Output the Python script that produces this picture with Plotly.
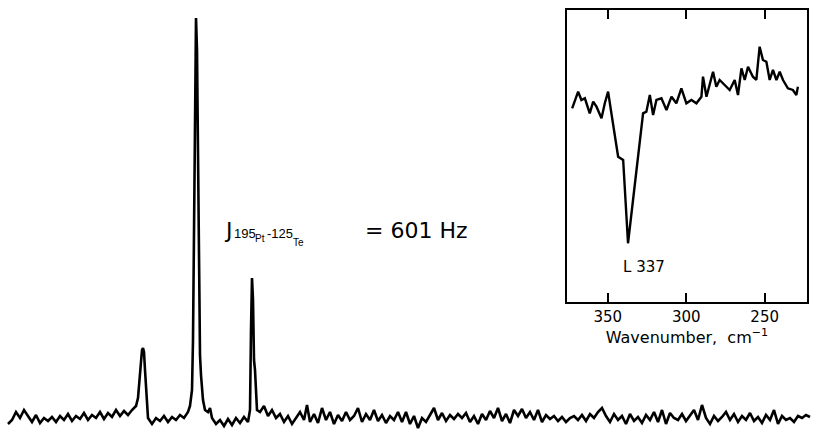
import plotly.graph_objects as go

# ---- Main 195Pt NMR spectrum (channel, intensity in arbitrary units) ----
channel = [8, 12, 16, 20, 24, 28, 32, 36, 40, 44, 48, 52, 56, 60, 64, 68, 72, 76, 80, 84,
           88, 92, 96, 100, 104, 108, 112, 116, 120, 124, 128, 132, 136,
           138, 140, 141, 142, 143, 144, 145, 146, 147, 148,
           152, 156, 160, 164, 168, 172, 176, 180, 184, 188, 190,
           192, 193, 194, 195, 196, 197, 198, 199, 200, 201, 202, 203, 205,
           208, 210, 212, 216, 220, 224, 228, 232, 236, 240, 244, 248, 250,
           251, 252, 253, 254, 255, 256, 257, 260,
           264, 268, 272, 276, 280, 284, 288, 292, 296, 300, 304, 307, 310, 314, 318,
           322, 326, 330, 334, 338, 342, 346, 350, 354, 358, 362, 366, 370, 374, 378,
           382, 386, 390, 394, 398, 402, 406, 410, 414, 418, 422, 426, 430, 434, 438,
           442, 446, 450, 454, 458, 462, 466, 470, 474, 478, 482, 486, 490, 494, 498,
           502, 506, 510, 514, 518, 522, 526, 530, 534, 538, 542, 546, 550, 554, 558,
           562, 566, 570, 574, 578, 582, 586, 590, 594, 598, 602, 606, 610, 614, 618,
           622, 626, 630, 634, 638, 642, 646, 650, 654, 658, 662, 666, 670, 674, 678,
           682, 686, 690, 694, 698, 702, 706, 710, 714, 718, 722, 726, 730, 734, 738,
           742, 746, 750, 754, 758, 762, 766, 770, 774, 778, 782, 786, 790, 794, 798,
           802, 806, 810]
intensity = [6, 10, 18, 12, 20, 14, 8, 15, 7, 12, 9, 13, 8, 14, 10, 16, 9, 14, 11, 17,
             10, 15, 12, 18, 11, 17, 13, 20, 14, 19, 15, 20, 24,
             32, 55, 70, 80, 82, 78, 60, 40, 22, 12,
             6, 12, 9, 14, 8, 13, 10, 15, 12, 18, 24,
             40, 90, 200, 360, 412, 380, 250, 130, 75, 55, 45, 30, 20,
             18, 22, 12, 6, 10, 4, 11, 5, 12, 7, 13, 8, 20,
             100, 152, 130, 70, 60, 35, 20, 18,
             24, 14, 20, 12, 16, 8, 14, 6, 12, 18, 10, 25, 8, 16, 7,
             22, 10, 18, 6, 15, 9, 18, 10, 14, 22, 8, 16, 10, 20, 9,
             15, 7, 14, 10, 18, 8, 18, 6, 14, 2, 12, 8, 15, 22, 10,
             17, 9, 15, 11, 16, 12, 17, 8, 14, 6, 16, 10, 19, 12, 22,
             9, 16, 7, 20, 14, 21, 12, 18, 10, 20, 8, 15, 11, 14, 9,
             13, 8, 12, 14, 10, 15, 9, 16, 12, 18, 22, 14, 8, 16, 10,
             14, 6, 16, 9, 13, 7, 15, 10, 18, 8, 20, 6, 17, 12, 10,
             16, 9, 14, 20, 10, 25, 12, 6, 14, 9, 13, 18, 10, 16, 8,
             14, 10, 17, 9, 13, 7, 15, 10, 20, 6, 14, 10, 12, 8, 14,
             12, 15, 13]

# ---- Inset far-IR spectrum ----
wavenumber = [372.7, 368.9, 366.8, 364.6, 361.5, 359.3, 357.2, 354.0, 351.9, 349.8,
              347.7, 343.4, 340.2, 337.1, 333.9, 327.5, 325.4, 323.2, 321.1, 319.0,
              315.8, 312.6, 309.4, 306.3, 303.1, 299.9, 296.7, 293.5, 290.3, 289.3,
              287.1, 285.0, 282.9, 280.8, 278.7, 275.5, 272.3, 269.1, 267.0, 264.8,
              262.7, 260.6, 257.5, 255.3, 253.2, 251.1, 248.9, 246.8, 244.7, 242.5,
              240.4, 238.3, 235.2, 232.0, 229.8, 228.8]
transmittance = [193.7, 210.3, 202.0, 203.7, 188.7, 200.3, 195.3, 183.7, 198.7, 210.3,
                 188.7, 145.3, 142.0, 58.7, 102.0, 188.7, 190.3, 207.0, 187.0, 202.0,
                 203.7, 192.0, 205.3, 198.7, 213.7, 198.7, 202.0, 198.7, 205.3, 225.3,
                 205.3, 218.7, 230.3, 215.3, 222.0, 217.0, 212.0, 222.0, 207.0, 233.7,
                 222.0, 235.3, 225.3, 222.0, 255.3, 242.0, 240.3, 222.0, 232.0, 222.0,
                 230.3, 222.0, 213.7, 212.0, 207.0, 215.3]
inset_ticks = [350, 300, 250]
peak_label = "L 337"

fig = go.Figure()
fig.add_trace(go.Scatter(x=channel, y=intensity, mode="lines",
                         line=dict(color="black", width=2.6), xaxis="x", yaxis="y",
                         showlegend=False, hoverinfo="skip"))
fig.add_trace(go.Scatter(x=wavenumber, y=transmittance, mode="lines",
                         line=dict(color="black", width=2.4), xaxis="x2", yaxis="y2",
                         showlegend=False, hoverinfo="skip"))

font_main = "DejaVu Sans"
font_narrow = "Liberation Sans Narrow, Liberation Sans, Arial Narrow, sans-serif"
fig.update_layout(
    width=815, height=438,
    margin=dict(l=0, r=0, t=0, b=0),
    paper_bgcolor="white", plot_bgcolor="rgba(0,0,0,0)",
    xaxis=dict(domain=[0, 1], range=[0, 815], visible=False),
    yaxis=dict(domain=[0, 1], range=[-8, 430], visible=False),
    xaxis2=dict(domain=[0.6957, 0.9902], range=[376, 223], anchor="y2",
                showline=True, linecolor="black", linewidth=2, mirror="ticks",
                ticks="inside", ticklen=9, tickwidth=2, tickcolor="black",
                tickvals=inset_ticks, ticktext=[str(t) for t in inset_ticks],
                tickfont=dict(family=font_main, size=15, color="black"),
                showgrid=False, zeroline=False,
                title=dict(text="Wavenumber,  cm<sup>−1</sup>",
                           font=dict(family=font_main, size=16, color="black"),
                           standoff=4)),
    yaxis2=dict(domain=[0.3105, 0.9772], range=[0, 292], anchor="x2",
                showline=True, linecolor="black", linewidth=2, mirror=True,
                ticks="", showticklabels=False, showgrid=False, zeroline=False),
    showlegend=False,
)

ann = [
    dict(text="J", x=222, y=200, size=22, fam=font_main),
    dict(text="195", x=232, y=197, size=13, fam=font_narrow),
    dict(text="Pt", x=253, y=192, size=10, fam=font_narrow),
    dict(text="-125", x=265, y=197, size=13, fam=font_narrow),
    dict(text="Te", x=291, y=188, size=10, fam=font_narrow),
    dict(text="= 601 Hz", x=363, y=200, size=22, fam=font_main),
]
for a in ann:
    fig.add_annotation(text=a["text"], x=a["x"], y=a["y"], xref="x", yref="y",
                       xanchor="left", yanchor="middle", showarrow=False,
                       font=dict(family=a["fam"], size=a["size"], color="black"))

fig.add_annotation(text=peak_label, x=337, y=35, xref="x2", yref="y2",
                   xanchor="left", yanchor="middle", showarrow=False,
                   xshift=-7,
                   font=dict(family=font_main, size=15, color="black"))

fig.write_html("out.html",
               config={"displayModeBar": False, "staticPlot": True},
               post_script="document.body.style.margin='0';document.body.style.padding='0';")
